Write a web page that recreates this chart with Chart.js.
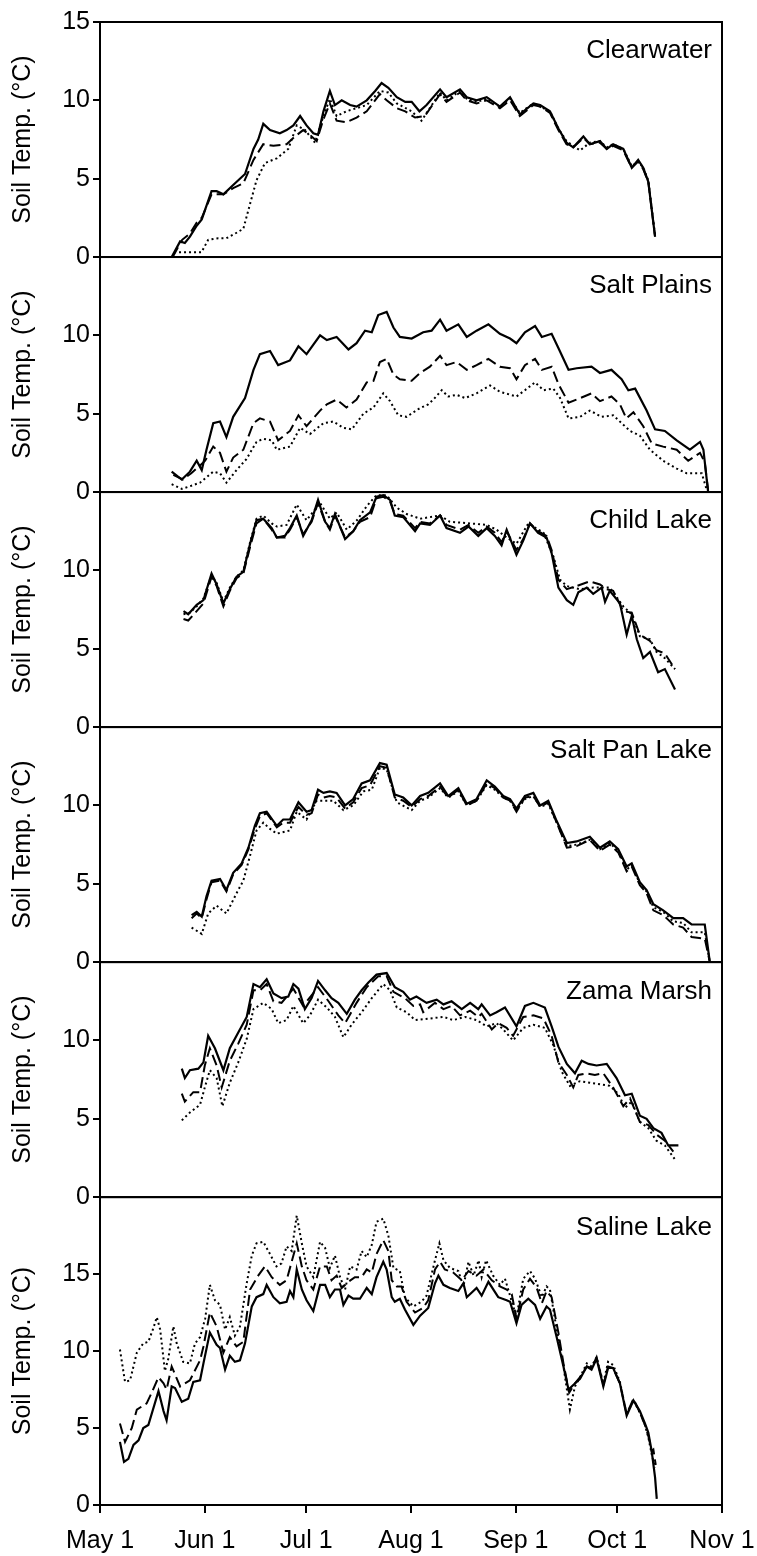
<!DOCTYPE html>
<html>
<head>
<meta charset="utf-8">
<script src="https://cdn.jsdelivr.net/npm/chart.js@4/dist/chart.umd.min.js"></script>
<style>
  body { margin: 0; background: #fff; }
  canvas { display: block; }
</style>
</head>
<body>
<canvas id="grafico-solo" width="757" height="1556"></canvas>
<script>
// eixo x: dias contados a partir de 1 de maio
const monthDays = [0, 31, 61, 92, 123, 153, 184];
const monthLabels = ['May 1', 'Jun 1', 'Jul 1', 'Aug 1', 'Sep 1', 'Oct 1', 'Nov 1'];
const siteNames = ['Clearwater', 'Salt Plains', 'Child Lake', 'Salt Pan Lake', 'Zama Marsh', 'Saline Lake'];
const yMax = [15, 15, 15, 15, 15, 20];
const yTicks = [0, 5, 10, 15, 20];

// [dia, temperatura] — linha contínua, tracejada e pontilhada de cada local
const clearwaterSolid = [[21.2,0],[23.7,1.0],[25.1,0.9],[26.6,1.3],[28.6,2.0],[30.1,2.4],[33.0,4.2],[34.5,4.2],[36.5,4.0],[39.4,4.6],[42.9,5.3],[45.4,6.9],[46.8,7.5],[48.3,8.5],[50.3,8.1],[53.2,7.9],[55.2,8.1],[57.2,8.4],[59.2,9.0],[61.1,8.4],[63.1,7.9],[64.5,7.8],[66.1,9.3],[68.0,10.6],[69.5,9.7],[71.5,10.0],[74.0,9.7],[75.9,9.6],[78.9,10.0],[81.4,10.6],[83.3,11.1],[85.3,10.8],[87.8,10.2],[90.3,9.9],[92.2,9.9],[94.5,9.3],[96.6,9.7],[100.6,10.7],[102.5,10.2],[106.5,10.7],[108.5,10.2],[111.4,10.0],[114.4,10.2],[118.3,9.6],[121.3,10.2],[124.2,9.1],[128.2,9.8],[130.2,9.7],[133.1,9.3],[135.6,8.2],[138.0,7.3],[140.0,7.0],[143.0,7.7],[144.9,7.2],[147.9,7.4],[149.9,6.9],[151.8,7.2],[154.8,6.9],[157.3,5.7],[159.2,6.2],[160.7,5.7],[162.2,4.8],[164.2,1.3]];
const clearwaterDashed = [[21.5,0],[24.3,1.1],[26.6,1.5],[28.6,2.2],[30.1,2.5],[33.0,4.0],[36.5,4.0],[39.4,4.4],[42.4,4.7],[45.4,6.2],[48.3,7.2],[51.3,7.1],[55.2,7.2],[57.7,7.7],[60.1,8.1],[62.1,7.8],[64.1,7.4],[66.1,8.8],[68.0,9.8],[70.0,8.7],[72.9,8.6],[75.9,8.9],[78.9,9.3],[82.8,10.4],[84.8,10.0],[87.8,9.5],[90.3,9.3],[93.2,8.9],[96.1,9.0],[100.6,10.4],[102.5,9.9],[106.5,10.5],[108.5,10.0],[111.4,9.8],[114.4,10.0],[118.3,9.5],[121.3,10.0],[124.2,9.0],[128.2,9.7],[130.2,9.6],[133.1,9.2],[135.6,8.1],[138.0,7.2],[140.0,7.0],[143.0,7.6],[144.9,7.2],[147.9,7.3],[149.9,6.9],[151.8,7.1],[154.8,6.8],[157.3,5.7],[159.2,6.1],[160.7,5.6],[162.2,4.8],[164.2,1.3]];
const clearwaterDotted = [[21.9,0.3],[24.5,0.3],[27.5,0.3],[30.0,0.3],[32.0,1.1],[35.0,1.2],[37.4,1.2],[40.0,1.5],[42.4,1.8],[44.4,3.4],[46.3,4.9],[48.8,6.0],[52.3,6.3],[55.7,6.9],[58.2,8.4],[60.7,8.1],[63.6,7.3],[66.1,9.0],[68.0,10.1],[70.0,9.0],[72.9,9.3],[75.9,9.5],[78.9,9.7],[82.8,10.6],[85.3,10.5],[87.8,9.8],[92.2,9.3],[95.1,8.7],[100.6,10.5],[102.5,10.0],[106.5,10.6],[108.5,10.1],[111.4,9.9],[114.4,10.1],[118.3,9.6],[121.3,10.1],[124.2,9.2],[128.2,9.8],[130.2,9.6],[133.1,9.3],[135.6,8.2],[138.0,7.4],[140.0,7.1],[142.0,6.8],[144.9,7.3],[147.9,7.4],[149.9,7.0],[151.8,7.2],[154.8,6.9],[157.3,5.8],[159.2,6.1],[160.7,5.7],[162.2,4.9],[164.2,1.4]];

const saltPlainsSolid = [[21.2,1.3],[24.2,0.8],[26.6,1.3],[28.6,2.0],[30.1,1.4],[31.5,2.7],[33.5,4.4],[35.5,4.5],[37.4,3.5],[39.4,4.8],[42.9,6.0],[45.4,7.8],[47.3,8.8],[50.3,9.0],[52.7,8.1],[56.2,8.4],[58.7,9.3],[61.1,8.8],[65.1,10.0],[67.1,9.7],[70.0,9.9],[73.5,9.1],[75.9,9.5],[78.4,10.3],[80.4,10.2],[82.3,11.3],[84.8,11.5],[86.8,10.5],[88.7,9.9],[92.2,9.8],[95.6,10.2],[98.1,10.3],[100.6,11.0],[102.5,10.3],[106.0,10.7],[108.5,9.9],[111.4,10.3],[114.9,10.7],[118.3,10.1],[121.3,9.8],[123.2,9.5],[125.7,10.2],[128.7,10.6],[130.7,9.9],[133.6,10.1],[135.6,9.2],[138.6,7.8],[141.0,7.9],[145.4,8.0],[147.9,7.6],[151.3,7.8],[154.3,7.2],[156.3,6.5],[158.3,6.6],[161.7,5.2],[164.2,4.0],[167.1,3.9],[170.6,3.3],[174.5,2.7],[177.5,3.2],[178.5,2.7],[179.9,0]];
const saltPlainsDashed = [[21.7,1.1],[24.5,0.8],[27.0,1.2],[29.6,1.7],[31.1,2.0],[33.5,2.9],[35.5,2.5],[37.4,1.3],[39.4,2.2],[42.4,2.7],[45.4,4.4],[47.3,4.7],[50.3,4.5],[52.7,3.3],[56.2,3.9],[58.7,4.9],[61.1,4.2],[65.1,5.2],[67.1,5.6],[70.0,5.9],[72.9,5.4],[75.9,5.9],[78.9,7.0],[80.9,7.1],[82.8,8.3],[84.8,8.5],[86.8,7.5],[88.7,7.2],[92.2,7.1],[94.7,7.6],[97.6,8.0],[100.6,8.7],[102.5,8.1],[105.5,8.3],[108.5,7.8],[111.4,8.1],[114.9,8.5],[118.3,8.0],[121.3,7.9],[123.2,7.2],[125.7,8.1],[128.7,8.5],[130.7,7.8],[133.6,8.0],[135.6,6.9],[138.6,5.7],[141.0,5.9],[145.4,6.3],[147.9,5.8],[151.3,6.1],[153.8,5.6],[155.7,4.7],[157.8,5.1],[160.7,4.2],[163.2,3.1],[166.6,2.9],[170.6,2.7],[174.0,2.0],[177.5,2.5],[178.9,1.9],[179.9,0.1]];
const saltPlainsDotted = [[21.2,0.5],[24.2,0.2],[27.0,0.4],[29.6,0.6],[33.5,1.3],[35.5,1.2],[37.4,0.6],[40.4,1.4],[43.3,2.1],[46.3,3.2],[48.3,3.4],[50.8,3.3],[52.3,2.7],[56.2,2.9],[59.2,4.1],[62.1,3.7],[66.1,4.4],[69.0,4.5],[72.0,4.1],[74.5,4.0],[77.9,5.0],[80.9,5.4],[83.8,6.3],[85.8,5.8],[88.2,4.9],[90.7,4.8],[94.2,5.3],[97.1,5.6],[98.6,5.9],[101.1,6.5],[103.0,6.1],[105.5,6.2],[108.0,6.0],[111.4,6.3],[115.4,6.8],[118.3,6.4],[123.2,6.1],[125.7,6.5],[128.7,7.0],[131.2,6.5],[134.1,6.6],[136.1,6.0],[138.6,4.7],[142.0,4.8],[144.9,5.2],[148.4,4.8],[151.8,4.9],[154.8,4.3],[156.8,3.9],[159.7,3.6],[162.7,2.7],[166.6,2.0],[170.6,1.5],[173.5,1.2],[178.0,1.2],[179.4,0.2]];

const childLakeSolid = [[24.7,7.4],[26.1,7.2],[28.6,7.8],[30.6,8.1],[33.0,9.8],[34.5,9.1],[36.5,7.9],[38.4,8.8],[40.4,9.6],[42.4,9.9],[44.4,11.7],[46.3,13.2],[48.3,13.3],[50.8,12.7],[52.3,12.1],[54.7,12.2],[56.2,12.7],[58.2,13.5],[60.1,12.2],[62.6,13.2],[64.5,14.5],[66.6,13.1],[68.0,12.7],[69.5,13.6],[72.5,12.0],[74.9,12.5],[76.9,13.2],[79.9,13.7],[81.8,14.7],[83.8,14.8],[85.8,14.5],[87.2,13.5],[89.7,13.4],[93.2,12.5],[94.7,13.0],[97.6,12.9],[100.6,13.5],[102.5,12.7],[106.5,12.4],[109.0,12.8],[111.9,12.2],[114.4,12.7],[116.8,12.2],[118.8,11.6],[120.3,12.6],[123.2,11.0],[125.2,11.9],[127.2,13.0],[129.6,12.4],[132.1,12.1],[133.6,11.1],[135.6,8.9],[138.1,8.1],[140.0,7.8],[141.5,8.6],[144.0,8.9],[145.9,8.5],[148.4,8.9],[149.4,8.0],[150.8,8.7],[153.8,7.9],[155.8,5.9],[157.3,7.1],[158.8,5.6],[160.7,4.4],[162.7,4.8],[165.1,3.5],[167.1,3.7],[170.1,2.4]];
const childLakeDashed = [[24.7,6.9],[26.1,6.8],[28.6,7.4],[30.6,7.9],[33.0,9.6],[34.5,9.0],[36.5,7.7],[38.4,8.7],[40.4,9.5],[42.4,9.8],[44.4,11.5],[46.3,13.0],[48.3,13.3],[50.8,12.6],[52.3,12.1],[54.7,12.1],[56.2,12.6],[58.2,13.4],[60.1,12.3],[62.6,13.1],[64.5,14.3],[66.6,13.1],[68.0,12.6],[69.5,13.5],[72.5,12.1],[74.9,12.5],[76.9,13.1],[79.9,13.4],[81.8,14.6],[83.8,14.7],[85.8,14.4],[87.2,13.6],[89.7,13.5],[93.2,12.7],[94.7,13.1],[97.6,13.0],[100.6,13.5],[102.5,12.9],[106.5,12.6],[109.0,12.9],[111.9,12.4],[114.4,12.8],[116.8,12.4],[118.8,11.8],[120.3,12.5],[123.2,11.3],[125.2,12.0],[127.2,13.0],[129.6,12.5],[132.1,12.2],[133.6,11.3],[135.6,9.4],[138.1,8.8],[141.0,9.0],[144.9,9.3],[147.9,9.1],[149.9,8.8],[151.8,8.7],[154.8,7.4],[157.3,7.3],[159.7,5.9],[162.7,5.5],[164.6,4.9],[167.1,4.7],[170.1,3.7]];
const childLakeDotted = [[24.7,7.2],[26.6,7.3],[28.6,7.7],[30.6,8.2],[33.0,9.7],[34.5,9.2],[36.5,8.0],[38.4,8.9],[40.4,9.6],[42.4,10.0],[44.4,11.8],[46.3,13.3],[48.3,13.5],[50.8,13.0],[52.3,12.8],[55.2,12.9],[58.2,14.2],[61.1,13.2],[65.1,14.3],[68.0,13.3],[70.0,13.7],[73.0,12.6],[76.0,13.2],[78.9,14.1],[81.8,14.8],[84.8,14.8],[87.8,14.0],[90.7,13.6],[94.7,13.3],[100.6,13.5],[103.5,13.1],[109.5,13.0],[114.4,12.9],[117.3,12.6],[120.3,12.1],[123.2,11.7],[126.7,13.0],[131.2,12.4],[134.1,10.9],[136.1,9.4],[138.1,9.0],[142.0,8.8],[145.9,8.9],[150.8,8.9],[154.8,7.7],[157.3,7.2],[159.7,5.8],[162.7,5.6],[164.6,4.8],[167.1,4.4],[170.1,3.7]];

const saltPanSolid = [[27.1,3.0],[28.6,3.2],[30.1,2.9],[31.5,4.2],[33.0,5.2],[35.5,5.3],[37.4,4.6],[39.4,5.7],[41.9,6.3],[43.9,7.3],[45.8,8.7],[47.3,9.5],[49.3,9.6],[52.3,8.7],[54.2,9.1],[56.2,9.1],[58.7,10.2],[61.1,9.6],[62.6,9.7],[64.5,11.0],[66.1,10.8],[68.0,10.9],[70.0,10.8],[72.5,10.0],[74.9,10.4],[77.4,11.4],[79.9,11.6],[82.8,12.7],[84.8,12.6],[87.2,10.7],[89.7,10.5],[92.2,10.0],[94.7,10.6],[97.1,10.8],[100.6,11.4],[103.0,10.6],[106.0,11.1],[108.5,10.1],[111.4,10.4],[114.4,11.6],[116.8,11.2],[119.3,10.6],[121.3,10.4],[123.2,9.8],[125.7,10.6],[128.2,10.8],[130.2,10.0],[132.6,10.3],[135.1,9.0],[138.1,7.6],[141.0,7.7],[144.9,8.0],[147.9,7.3],[150.8,7.7],[153.3,7.2],[155.8,6.1],[157.3,6.3],[159.7,5.1],[161.7,4.6],[163.7,3.7],[166.6,3.3],[169.6,2.8],[172.5,2.8],[175.0,2.4],[178.9,2.4],[180.4,0]];
const saltPanDashed = [[27.1,2.8],[28.6,3.1],[30.1,2.8],[31.5,4.0],[33.0,5.1],[35.5,5.2],[37.4,4.5],[39.4,5.6],[41.9,6.2],[43.9,7.2],[45.8,8.5],[47.3,9.3],[49.3,9.5],[52.3,8.6],[54.2,8.9],[56.2,8.9],[58.7,9.9],[61.1,9.4],[62.6,9.5],[64.5,10.7],[66.1,10.5],[68.0,10.6],[70.0,10.5],[72.5,9.8],[74.9,10.2],[77.4,11.1],[79.9,11.3],[82.8,12.5],[84.8,12.4],[87.2,10.5],[89.7,10.3],[92.2,9.9],[94.7,10.4],[97.1,10.6],[100.6,11.2],[103.0,10.5],[106.0,11.0],[108.5,10.0],[111.4,10.3],[114.4,11.4],[116.8,11.1],[119.3,10.5],[121.3,10.3],[123.2,9.6],[125.7,10.5],[128.2,10.6],[130.2,9.9],[132.6,10.2],[135.1,8.9],[138.1,7.3],[141.0,7.4],[144.9,7.8],[147.9,7.1],[150.8,7.5],[153.3,7.0],[155.8,5.8],[157.3,6.1],[159.7,4.9],[161.7,4.4],[163.7,3.3],[166.6,3.0],[169.6,2.4],[172.5,2.2],[175.0,1.6],[178.9,1.5],[180.4,0]];
const saltPanDotted = [[27.1,2.2],[28.6,2.0],[30.1,1.8],[32.0,3.1],[34.5,3.6],[37.4,3.1],[40.4,4.4],[42.4,5.2],[44.4,6.8],[46.3,8.4],[48.3,8.9],[50.3,8.5],[52.3,8.2],[56.2,8.4],[58.2,9.6],[61.1,9.1],[64.1,10.3],[66.1,10.3],[69.0,10.3],[72.0,9.7],[74.9,10.0],[77.9,10.9],[80.4,11.0],[82.8,12.4],[84.8,12.3],[87.8,10.2],[92.2,9.7],[94.7,10.3],[97.1,10.5],[100.6,11.1],[103.0,10.5],[106.0,10.9],[108.5,10.0],[111.4,10.3],[114.4,11.3],[116.8,11.0],[119.3,10.5],[121.3,10.3],[123.2,9.7],[125.7,10.4],[128.2,10.6],[130.2,9.9],[132.6,10.1],[135.1,8.9],[138.1,7.4],[141.0,7.5],[144.9,7.8],[147.9,7.2],[150.8,7.6],[153.3,7.1],[155.8,5.9],[157.3,6.2],[159.7,5.0],[161.7,4.5],[163.7,3.5],[166.6,3.2],[169.6,2.6],[172.5,2.5],[175.0,1.9],[178.9,1.9],[180.4,0]];

const zamaSolid = [[24.2,8.2],[25.1,7.6],[26.6,8.1],[29.1,8.2],[30.6,8.6],[32.0,10.3],[34.0,9.5],[36.5,8.1],[38.4,9.5],[40.9,10.5],[43.4,11.5],[45.4,13.6],[47.3,13.4],[49.3,13.9],[51.3,13.0],[53.7,12.7],[55.7,12.8],[57.2,13.6],[58.7,13.3],[60.6,12.0],[62.6,12.7],[64.5,13.8],[66.6,13.2],[68.5,12.7],[70.5,12.4],[73.0,11.7],[75.4,12.6],[77.4,13.2],[79.4,13.7],[81.8,14.2],[84.8,14.3],[87.2,13.4],[89.7,13.1],[91.7,12.6],[93.6,12.8],[96.6,12.4],[99.6,12.6],[101.6,12.3],[104.0,12.5],[107.0,12.0],[109.5,12.4],[111.9,12.0],[112.9,12.3],[115.4,11.6],[117.3,11.8],[119.8,12.1],[123.2,10.9],[125.7,12.2],[128.2,12.4],[131.6,12.1],[133.6,10.9],[135.6,9.6],[138.1,8.5],[140.5,7.9],[142.5,8.7],[144.5,8.5],[146.9,8.4],[149.9,8.5],[152.8,7.6],[155.3,6.5],[157.3,6.6],[159.7,5.2],[161.7,5.0],[163.7,4.4],[166.1,4.1],[168.1,3.3],[171.1,3.3]];
const zamaDashed = [[24.2,6.6],[25.1,6.1],[27.6,6.7],[29.6,6.7],[31.0,8.4],[32.5,9.5],[34.5,8.4],[36.0,7.0],[38.4,8.7],[40.9,9.8],[43.4,11.0],[45.4,13.2],[47.3,13.2],[49.3,13.6],[51.3,12.5],[53.7,12.4],[57.2,13.3],[60.1,12.2],[64.5,13.4],[67.6,12.5],[70.5,11.6],[72.5,11.1],[75.9,12.4],[78.9,13.4],[82.3,14.1],[84.8,14.1],[86.8,13.1],[90.2,12.7],[92.7,12.2],[94.7,12.3],[95.6,11.8],[99.1,12.4],[101.6,12.0],[104.0,12.2],[106.5,11.6],[109.5,11.9],[111.9,11.5],[112.9,11.7],[115.9,10.7],[117.8,11.1],[120.3,10.8],[122.2,10.3],[125.2,11.5],[128.2,11.6],[131.2,11.4],[133.6,10.3],[135.6,8.6],[138.1,7.8],[140.0,7.0],[141.5,7.8],[144.0,7.9],[146.4,7.8],[148.9,7.9],[151.8,7.0],[154.8,5.8],[156.8,6.3],[159.7,4.8],[162.2,4.6],[164.6,4.0],[167.1,3.6],[169.6,2.9]];
const zamaDotted = [[24.2,4.9],[26.6,5.4],[29.6,5.9],[31.0,7.0],[32.5,8.1],[34.5,7.6],[36.2,5.8],[38.4,7.3],[40.9,8.6],[43.4,10.1],[45.4,12.0],[48.3,12.4],[50.8,12.0],[52.7,11.1],[55.2,11.3],[57.2,12.2],[60.1,11.1],[62.1,11.6],[64.5,12.6],[67.1,12.1],[69.5,11.5],[72.0,10.2],[74.4,11.0],[77.4,11.8],[80.4,12.7],[83.8,13.6],[85.8,13.2],[87.8,12.1],[90.7,11.8],[93.2,11.3],[97.6,11.4],[101.6,11.5],[104.5,11.3],[108.0,11.5],[111.4,11.3],[114.4,10.9],[117.3,11.1],[119.3,10.7],[122.2,10.0],[125.2,10.8],[128.2,11.0],[131.6,10.8],[134.1,9.7],[136.6,8.0],[139.0,7.1],[142.0,7.4],[144.9,7.3],[147.9,7.2],[150.8,7.1],[153.3,6.6],[155.3,5.7],[157.3,6.1],[159.7,4.8],[162.2,4.4],[164.6,3.6],[167.1,3.3],[170.1,2.4]];

const salineSolid = [[5.9,4.1],[7.1,2.8],[8.4,3.0],[9.9,3.9],[11.4,4.2],[12.8,5.0],[14.3,5.2],[17.3,7.4],[18.8,6.1],[19.7,5.5],[21.2,7.7],[22.2,7.6],[24.2,6.7],[26.1,6.9],[27.6,8.0],[29.6,8.1],[30.6,9.2],[32.5,11.2],[34.5,10.4],[35.5,10.2],[37.0,8.8],[38.4,9.7],[39.9,9.3],[41.4,9.4],[42.9,10.5],[44.9,12.9],[46.3,13.5],[48.3,13.7],[49.3,14.3],[51.3,13.5],[53.2,13.1],[55.2,13.2],[56.2,13.9],[57.2,13.5],[58.2,15.3],[59.7,14.0],[61.1,13.3],[63.1,12.6],[65.1,14.3],[66.6,14.3],[68.0,13.5],[69.5,14.0],[71.0,14.0],[72.0,13.0],[73.5,13.6],[74.9,13.4],[76.9,13.4],[78.9,14.1],[80.4,13.7],[81.8,14.8],[83.8,15.8],[84.8,15.3],[86.3,13.5],[87.2,13.2],[88.7,13.4],[90.2,12.7],[92.7,11.7],[94.7,12.3],[97.1,12.8],[99.1,14.4],[100.1,14.9],[101.6,14.3],[103.5,14.1],[106.0,13.9],[107.5,14.4],[108.5,13.5],[111.4,14.1],[112.9,13.6],[114.9,14.5],[117.8,13.5],[120.3,13.3],[121.3,13.2],[123.2,11.8],[124.7,13.0],[126.7,13.4],[128.7,13.0],[130.2,12.1],[132.1,12.9],[133.1,12.7],[135.1,10.9],[137.1,9.0],[138.6,7.5],[140.0,7.8],[142.0,8.2],[144.0,9.0],[145.4,8.8],[146.9,9.5],[148.9,7.7],[150.3,8.9],[151.8,8.9],[153.8,7.9],[155.8,5.8],[157.8,6.8],[159.7,6.1],[161.2,5.3],[162.2,4.7],[163.2,3.5],[164.2,1.8],[164.7,0.4]];
const salineDashed = [[5.9,5.3],[7.4,4.1],[9.4,5.0],[10.9,6.2],[13.8,6.6],[15.3,7.3],[17.3,8.3],[18.8,7.9],[19.7,7.5],[21.2,9.0],[23.7,7.7],[26.6,8.1],[29.6,9.4],[30.6,10.3],[32.5,12.5],[34.5,11.6],[36.5,9.9],[38.4,10.9],[40.4,10.3],[42.4,10.6],[44.4,14.0],[46.8,14.9],[48.8,15.5],[50.8,14.8],[53.2,14.3],[55.2,14.6],[58.2,17.0],[59.7,15.5],[61.1,14.6],[63.1,14.0],[65.1,15.5],[67.1,15.5],[68.5,14.6],[70.0,14.9],[71.5,14.1],[73.5,14.5],[75.4,14.8],[77.4,14.8],[78.9,15.3],[80.4,15.1],[81.8,16.3],[83.8,17.2],[85.3,16.5],[86.3,14.6],[87.8,14.2],[89.2,14.2],[90.7,13.2],[93.2,12.5],[95.6,12.8],[97.1,13.3],[99.1,15.3],[100.6,15.8],[102.0,15.3],[104.5,15.1],[107.0,14.6],[109.0,15.2],[111.4,14.9],[113.4,15.3],[115.9,14.6],[118.3,14.2],[120.3,14.0],[121.8,13.7],[123.2,12.1],[125.2,14.0],[127.2,14.7],[129.2,14.1],[130.7,13.1],[132.1,13.9],[133.6,13.5],[135.6,11.2],[137.1,9.2],[138.8,7.3],[140.5,7.9],[142.0,8.3],[144.0,9.0],[145.4,8.9],[146.9,9.6],[148.9,7.8],[150.3,9.0],[151.8,8.9],[153.8,7.9],[155.8,5.9],[157.8,6.9],[159.7,6.0],[161.2,5.2],[162.2,4.5],[163.2,3.5],[163.7,3.6],[164.4,2.6]];
const salineDotted = [[5.9,10.1],[7.4,8.0],[8.9,8.1],[10.9,9.9],[12.8,10.5],[14.3,10.6],[15.8,11.5],[16.8,12.2],[17.8,11.4],[19.2,8.7],[20.2,9.5],[21.7,11.6],[22.7,10.5],[24.6,9.3],[26.6,9.2],[28.1,10.5],[29.6,10.9],[31.1,12.1],[32.5,14.3],[34.0,13.3],[35.5,13.0],[37.0,11.4],[38.4,12.2],[39.9,11.0],[41.4,11.6],[43.4,14.4],[44.9,16.2],[46.3,17.0],[48.3,17.1],[50.3,16.3],[52.2,15.5],[53.7,15.7],[55.2,16.8],[56.7,16.5],[58.2,18.8],[59.7,17.0],[61.1,15.5],[63.1,14.8],[65.1,17.1],[66.6,16.7],[68.0,15.4],[69.5,16.2],[71.0,14.8],[72.5,14.0],[74.0,15.5],[75.9,15.3],[77.4,16.5],[78.9,16.1],[80.4,16.9],[81.8,18.4],[83.8,18.6],[85.3,17.5],[86.8,15.4],[88.7,15.2],[90.2,13.5],[92.7,12.9],[95.1,13.2],[96.6,13.6],[98.0,14.9],[99.1,15.9],[100.4,17.0],[101.6,15.9],[103.5,15.4],[106.0,15.2],[107.5,14.2],[109.0,15.8],[110.5,14.9],[112.0,15.9],[112.9,14.8],[114.2,15.9],[116.3,14.9],[118.3,14.3],[119.8,14.7],[121.3,13.6],[123.2,12.2],[125.2,14.7],[127.2,15.2],[128.7,14.7],[130.7,13.5],[132.1,14.2],[133.1,14.0],[135.1,11.4],[137.1,9.0],[139.0,6.2],[140.5,7.7],[142.0,8.3],[144.0,9.2],[145.4,9.0],[146.9,9.6],[148.9,7.9],[150.3,9.3],[151.8,9.1],[153.8,8.0],[155.8,5.9],[157.8,6.8],[159.7,6.0],[161.2,5.2],[162.2,4.4],[163.2,3.3],[164.2,2.4]];

// estilos das três curvas
const lineStyles = [
  { nome: 'solid', dash: [], width: 2.2 },
  { nome: 'dashed', dash: [11, 5], width: 2 },
  { nome: 'dotted', dash: [2, 3], width: 2 }
];

const panels = [
  { series: [clearwaterSolid, clearwaterDashed, clearwaterDotted], titleDy: 36 },
  { series: [saltPlainsSolid, saltPlainsDashed, saltPlainsDotted], titleDy: 36 },
  { series: [childLakeSolid, childLakeDashed, childLakeDotted], titleDy: 36 },
  { series: [saltPanSolid, saltPanDashed, saltPanDotted], titleDy: 31 },
  { series: [zamaSolid, zamaDashed, zamaDotted], titleDy: 37 },
  { series: [salineSolid, salineDashed, salineDotted], titleDy: 38 }
];

const FONTE = '"Liberation Sans", Arial, sans-serif';
Chart.defaults.font.family = FONTE;
Chart.defaults.color = '#000';

// molduras dos painéis + nome do local
const molduras = {
  id: 'molduras',
  afterDraw(chart) {
    const ctx = chart.ctx;
    const area = chart.chartArea;
    ctx.save();
    ctx.strokeStyle = '#000';
    ctx.lineWidth = 2;
    ctx.fillStyle = '#000';
    ctx.font = '26px ' + FONTE;
    ctx.textAlign = 'right';
    ctx.textBaseline = 'alphabetic';
    panels.forEach((p, i) => {
      const s = chart.scales['y' + i];
      ctx.strokeRect(area.left, s.top, area.right - area.left, s.bottom - s.top);
      ctx.fillText(siteNames[i], area.right - 10, s.top + p.titleDy);
    });
    ctx.restore();
  }
};

const datasets = [];
const scales = {
  x: {
    type: 'linear',
    min: monthDays[0],
    max: monthDays[monthDays.length - 1],
    afterBuildTicks: s => { s.ticks = monthDays.map(v => ({ value: v })); },
    ticks: {
      autoSkip: false,
      maxRotation: 0,
      padding: 13,
      font: { size: 25 },
      color: '#000',
      callback: (v, i) => monthLabels[i]
    },
    grid: { drawOnChartArea: false, tickLength: 8, color: '#000', lineWidth: 2 },
    border: { color: '#000', width: 2 },
    afterFit: s => { s.height = 51; s.paddingLeft = 0; s.paddingRight = 0; }
  }
};

panels.forEach((p, i) => {
  const max = yMax[i];
  scales['y' + i] = {
    type: 'linear',
    position: 'left',
    stack: 'paineis',
    stackWeight: max === 20 ? 1.31 : 1,
    weight: panels.length - i,
    min: 0,
    max: max,
    afterBuildTicks: s => { s.ticks = yTicks.filter(v => v <= max).map(v => ({ value: v })); },
    ticks: {
      padding: 3,
      font: { size: 25 },
      color: '#000',
      callback: v => (i > 0 && v === max) ? '' : String(v)
    },
    grid: { drawOnChartArea: false, tickLength: 7, color: '#000', lineWidth: 2 },
    border: { color: '#000', width: 2 },
    title: {
      display: true,
      text: 'Soil Temp. (°C)',
      font: { size: 25 },
      color: '#000',
      padding: { top: 8, bottom: 0 }
    },
    afterFit: s => { s.width = 100; s.paddingTop = 0; s.paddingBottom = 0; }
  };
  p.series.forEach((serie, j) => {
    const st = lineStyles[j];
    datasets.push({
      label: siteNames[i] + ' ' + st.nome,
      data: serie.map(([x, y]) => ({ x, y })),
      xAxisID: 'x',
      yAxisID: 'y' + i,
      borderColor: '#000',
      borderWidth: st.width,
      borderDash: st.dash,
      pointRadius: 0,
      tension: 0,
      fill: false
    });
  });
});

new Chart(document.getElementById('grafico-solo'), {
  type: 'line',
  data: { datasets },
  options: {
    responsive: false,
    animation: false,
    devicePixelRatio: 1,
    layout: { padding: { top: 22, right: 35, left: 0, bottom: 0 } },
    plugins: { legend: { display: false }, tooltip: { enabled: false } },
    scales
  },
  plugins: [molduras]
});
</script>
</body>
</html>
